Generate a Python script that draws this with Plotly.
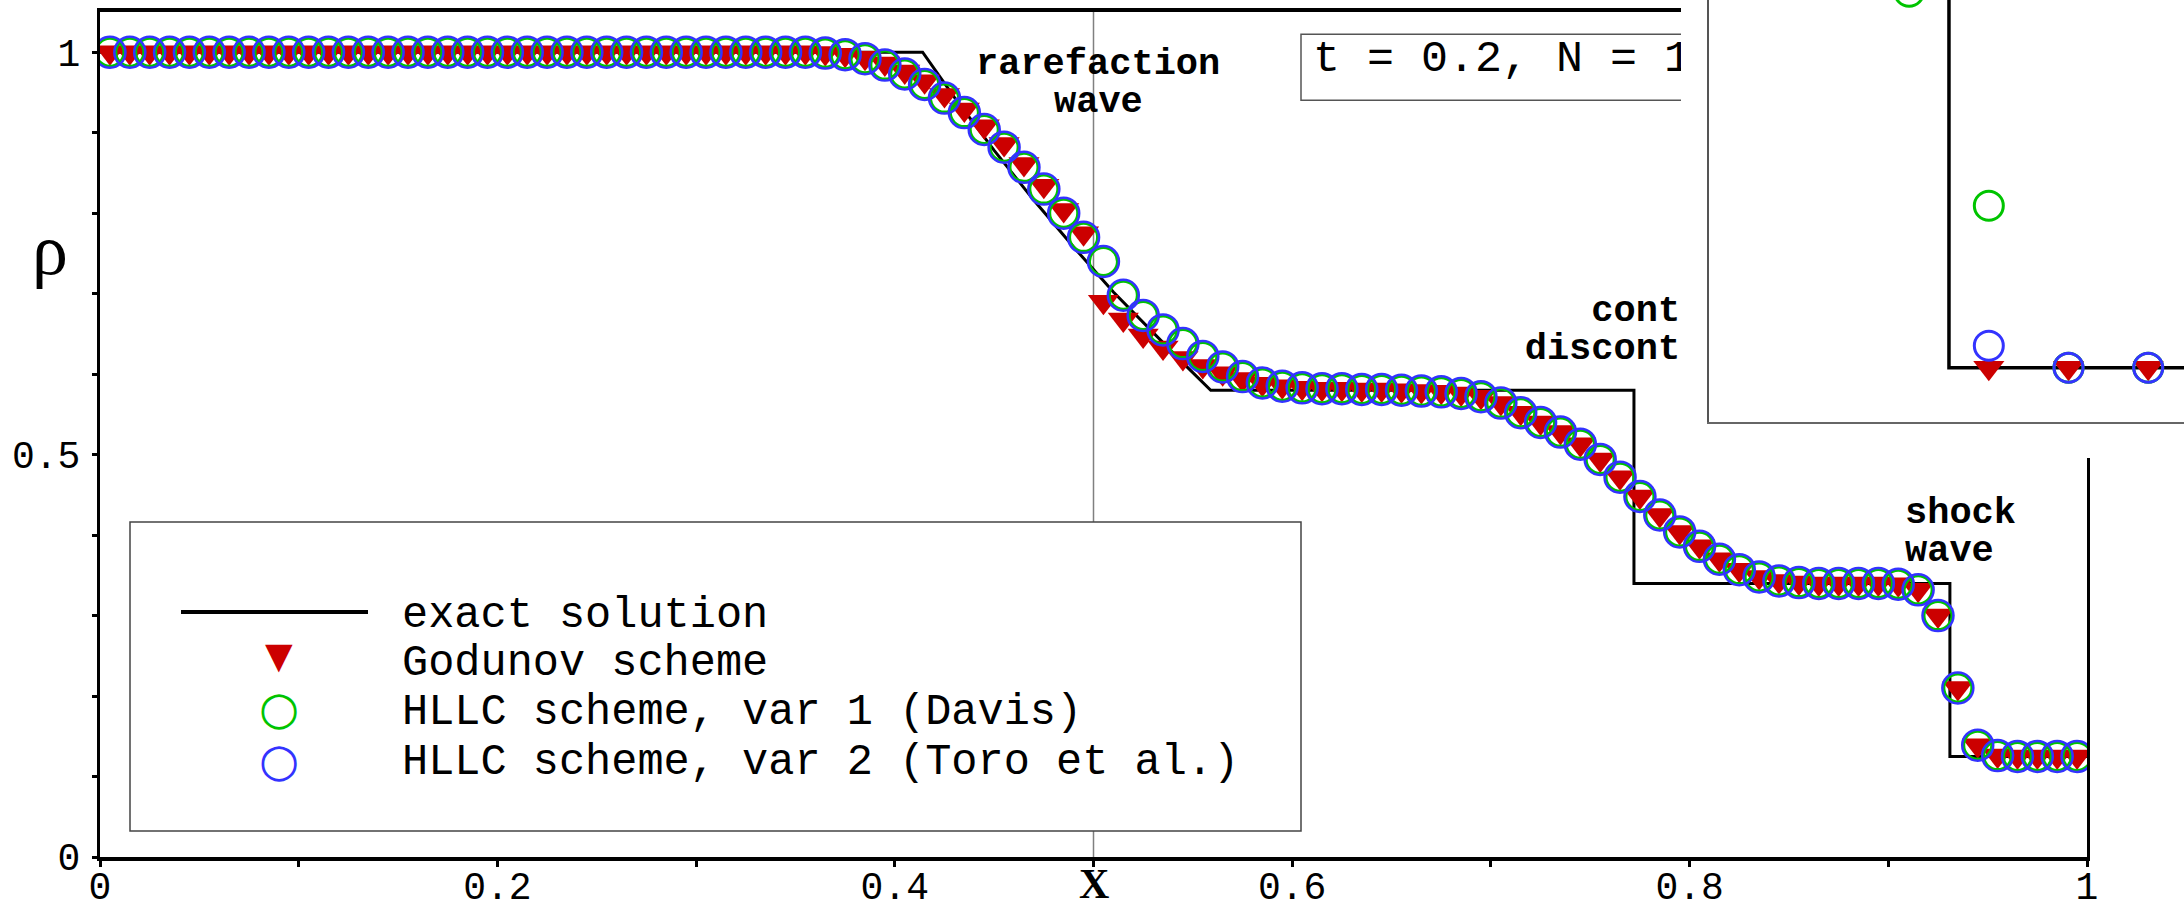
import plotly.graph_objects as go

# ---------------- data ----------------
x_cells = [0.005, 0.015, 0.025, 0.035, 0.045, 0.055, 0.065, 0.075, 0.085, 0.095,
           0.105, 0.115, 0.125, 0.135, 0.145, 0.155, 0.165, 0.175, 0.185, 0.195,
           0.205, 0.215, 0.225, 0.235, 0.245, 0.255, 0.265, 0.275, 0.285, 0.295,
           0.305, 0.315, 0.325, 0.335, 0.345, 0.355, 0.365, 0.375, 0.385, 0.395,
           0.405, 0.415, 0.425, 0.435, 0.445, 0.455, 0.465, 0.475, 0.485, 0.495,
           0.505, 0.515, 0.525, 0.535, 0.545, 0.555, 0.565, 0.575, 0.585, 0.595,
           0.605, 0.615, 0.625, 0.635, 0.645, 0.655, 0.665, 0.675, 0.685, 0.695,
           0.705, 0.715, 0.725, 0.735, 0.745, 0.755, 0.765, 0.775, 0.785, 0.795,
           0.805, 0.815, 0.825, 0.835, 0.845, 0.855, 0.865, 0.875, 0.885, 0.895,
           0.905, 0.915, 0.925, 0.935, 0.945, 0.955, 0.965, 0.975, 0.985, 0.995]

rho_hllc1 = [1.0, 1.0, 1.0, 1.0, 1.0, 1.0, 1.0, 1.0, 1.0, 1.0,
             1.0, 1.0, 1.0, 1.0, 1.0, 1.0, 1.0, 1.0, 1.0, 1.0,
             1.0, 1.0, 1.0, 1.0, 1.0, 1.0, 1.0, 1.0, 1.0, 1.0,
             1.0, 1.0, 1.0, 1.0, 1.0, 1.0, 0.999, 0.997, 0.992, 0.984,
             0.973, 0.960, 0.943, 0.925, 0.904, 0.882, 0.857, 0.830, 0.800, 0.770,
             0.740, 0.698, 0.673, 0.655, 0.638, 0.622, 0.609, 0.597, 0.589, 0.585,
             0.583, 0.582, 0.582, 0.581, 0.581, 0.580, 0.579, 0.578, 0.576, 0.572,
             0.564, 0.552, 0.540, 0.528, 0.513, 0.494, 0.472, 0.448, 0.425, 0.404,
             0.386, 0.370, 0.357, 0.348, 0.343, 0.341, 0.340, 0.340, 0.340, 0.340,
             0.339, 0.332, 0.300, 0.210, 0.139, 0.126, 0.125, 0.125, 0.125, 0.125]

rho_hllc2 = [1.0, 1.0, 1.0, 1.0, 1.0, 1.0, 1.0, 1.0, 1.0, 1.0,
             1.0, 1.0, 1.0, 1.0, 1.0, 1.0, 1.0, 1.0, 1.0, 1.0,
             1.0, 1.0, 1.0, 1.0, 1.0, 1.0, 1.0, 1.0, 1.0, 1.0,
             1.0, 1.0, 1.0, 1.0, 1.0, 1.0, 0.999, 0.997, 0.992, 0.984,
             0.973, 0.960, 0.943, 0.925, 0.904, 0.882, 0.857, 0.830, 0.800, 0.770,
             0.740, 0.698, 0.673, 0.655, 0.638, 0.622, 0.609, 0.597, 0.589, 0.585,
             0.583, 0.582, 0.582, 0.581, 0.581, 0.580, 0.579, 0.578, 0.576, 0.572,
             0.564, 0.552, 0.540, 0.528, 0.513, 0.494, 0.472, 0.448, 0.425, 0.404,
             0.386, 0.370, 0.357, 0.348, 0.343, 0.341, 0.340, 0.340, 0.340, 0.340,
             0.339, 0.332, 0.300, 0.210, 0.139, 0.126, 0.125, 0.125, 0.125, 0.125]

rho_godunov = [1.0, 1.0, 1.0, 1.0, 1.0, 1.0, 1.0, 1.0, 1.0, 1.0,
               1.0, 1.0, 1.0, 1.0, 1.0, 1.0, 1.0, 1.0, 1.0, 1.0,
               1.0, 1.0, 1.0, 1.0, 1.0, 1.0, 1.0, 1.0, 1.0, 1.0,
               1.0, 1.0, 1.0, 1.0, 1.0, 1.0, 0.999, 0.997, 0.993, 0.986,
               0.976, 0.964, 0.947, 0.929, 0.908, 0.886, 0.861, 0.834, 0.804, 0.775,
               0.690, 0.668, 0.648, 0.633, 0.620, 0.610, 0.601, 0.594, 0.588, 0.585,
               0.583, 0.582, 0.582, 0.581, 0.581, 0.580, 0.579, 0.578, 0.576, 0.572,
               0.564, 0.552, 0.540, 0.528, 0.513, 0.494, 0.472, 0.448, 0.425, 0.404,
               0.386, 0.370, 0.357, 0.348, 0.343, 0.341, 0.340, 0.340, 0.340, 0.340,
               0.339, 0.332, 0.300, 0.210, 0.139, 0.126, 0.125, 0.125, 0.125, 0.125]

exact_x = [0.0, 0.414, 0.43, 0.45, 0.47, 0.49, 0.51, 0.53, 0.545, 0.559,
           0.772, 0.772, 0.931, 0.931, 1.0]
exact_y = [1.0, 1.0, 0.944, 0.878, 0.816, 0.758, 0.702, 0.651, 0.614, 0.580,
           0.580, 0.340, 0.340, 0.125, 0.125]

# inset (zoom near the discontinuity)
inset_x = [0.495, 0.505, 0.515, 0.525]
inset_godunov = [0.400, 0.125, 0.125, 0.125]
inset_hllc1 = [0.313, 0.206, 0.125, 0.125]
inset_hllc2 = [0.400, 0.136, 0.125, 0.125]
inset_exact_x = [0.46, 0.5, 0.5, 0.54]
inset_exact_y = [0.45, 0.45, 0.125, 0.125]

x_tick_vals = [0.0, 0.1, 0.2, 0.3, 0.4, 0.5, 0.6, 0.7, 0.8, 0.9, 1.0]
x_tick_text = ["0", "", "0.2", "", "0.4", "", "0.6", "", "0.8", "", "1"]
y_tick_vals = [0.0, 0.1, 0.2, 0.3, 0.4, 0.5, 0.6, 0.7, 0.8, 0.9, 1.0]
y_tick_text = ["0", "", "", "", "", "0.5", "", "", "", "", "1"]

legend_names = ["exact solution", "Godunov scheme",
                "HLLC scheme, var 1 (Davis)", "HLLC scheme, var 2 (Toro et al.)"]

# ---------------- figure ----------------
W, H = 2184, 909
MONO = "Liberation Mono"
RED, GREEN, BLUE = "#cc0000", "#00c400", "#3333ff"

fig = go.Figure()

fig.add_trace(go.Scatter(x=exact_x, y=exact_y, mode="lines",
                         line=dict(color="black", width=3),
                         name=legend_names[0], showlegend=False))
fig.add_trace(go.Scatter(x=x_cells, y=rho_godunov, mode="markers",
                         marker=dict(symbol="triangle-down", size=27, color=RED),
                         name=legend_names[1], showlegend=False))
fig.add_trace(go.Scatter(x=x_cells, y=rho_hllc1, mode="markers",
                         marker=dict(symbol="circle-open", size=28, color=GREEN,
                                     line=dict(width=3)),
                         name=legend_names[2], showlegend=False))
fig.add_trace(go.Scatter(x=x_cells, y=rho_hllc2, mode="markers",
                         marker=dict(symbol="circle-open", size=31, color=BLUE,
                                     line=dict(width=2.5)),
                         name=legend_names[3], showlegend=False))


def px_x(p):
    return p / W


def px_y(p):
    return 1 - p / H


def dx(p):  # main-plot data x for a pixel column
    return (p - 100) / 1987


def dy(p):  # main-plot data y for a pixel row
    return (857 - p) / 805


# clipped texts (drawn as text traces so the inset panel covers them)
fig.add_trace(go.Scatter(x=[dx(1669)] * 2, y=[0.6770, 0.6298], mode="text",
                         text=["<b>contact</b>", "<b>discontinuity</b>"],
                         textposition="middle center",
                         textfont=dict(family=MONO, size=37, color="black"),
                         showlegend=False, hoverinfo="skip"))
fig.add_trace(go.Scatter(x=[0.6105], y=[0.9905], mode="text",
                         text=["t = 0.2, N = 100"], textposition="middle right",
                         textfont=dict(family=MONO, size=45, color="black"),
                         showlegend=False, hoverinfo="skip"))

# white panel behind the inset (covers the main plot there)
fig.add_trace(go.Scatter(x=[None], y=[None], xaxis="x2", yaxis="y2",
                         showlegend=False, hoverinfo="skip"))

# inset traces
fig.add_trace(go.Scatter(x=inset_exact_x, y=inset_exact_y, mode="lines",
                         line=dict(color="black", width=3.5),
                         xaxis="x3", yaxis="y3", showlegend=False))
fig.add_trace(go.Scatter(x=inset_x, y=inset_godunov, mode="markers",
                         marker=dict(symbol="triangle-down", size=27, color=RED),
                         xaxis="x3", yaxis="y3", showlegend=False))
fig.add_trace(go.Scatter(x=inset_x, y=inset_hllc1, mode="markers",
                         marker=dict(symbol="circle-open", size=29, color=GREEN,
                                     line=dict(width=3)),
                         xaxis="x3", yaxis="y3", showlegend=False))
fig.add_trace(go.Scatter(x=inset_x, y=inset_hllc2, mode="markers",
                         marker=dict(symbol="circle-open", size=29, color=BLUE,
                                     line=dict(width=3)),
                         xaxis="x3", yaxis="y3", showlegend=False))

hidden = dict(showline=False, showticklabels=False, ticks="", showgrid=False,
              zeroline=False, range=[0, 1], fixedrange=True, automargin=False)

fig.update_layout(
    template="none",
    width=W, height=H, autosize=False,
    margin=dict(l=0, r=0, t=0, b=0, pad=0),
    paper_bgcolor="white", plot_bgcolor="white",
    font=dict(family=MONO, color="black"),
    showlegend=False,
    xaxis=dict(domain=[px_x(100), px_x(2087)], range=[0, 1], anchor="y",
               automargin=False, ticklabelstandoff=-13,
               showline=True, mirror=True, linecolor="black", linewidth=3.5,
               ticks="outside", ticklen=6, tickwidth=3, tickcolor="black",
               tickvals=x_tick_vals, ticktext=x_tick_text,
               tickfont=dict(family=MONO, size=38, color="black"),
               showgrid=False, zeroline=False),
    yaxis=dict(domain=[px_y(857), px_y(12)], range=[0, 1.05], anchor="x",
               automargin=False, ticklabelstandoff=4,
               showline=True, mirror=True, linecolor="black", linewidth=3,
               ticks="outside", ticklen=5, tickwidth=3, tickcolor="black",
               tickvals=y_tick_vals, ticktext=y_tick_text,
               tickfont=dict(family=MONO, size=38, color="black"),
               showgrid=False, zeroline=False),
    xaxis2=dict(domain=[px_x(1681), 1.0], anchor="y2", **hidden),
    yaxis2=dict(domain=[px_y(458), 1.0], anchor="x2", **hidden),
    xaxis3=dict(domain=[px_x(1709), 1.0], anchor="y3", range=[0.46989, 0.52949],
                automargin=False,
                showline=True, linecolor="#666666", linewidth=2, mirror=False,
                showticklabels=False, ticks="", showgrid=False, zeroline=False),
    yaxis3=dict(domain=[px_y(421.7), 1.0], anchor="x3", range=[0.098, 0.30885],
                automargin=False,
                showline=True, linecolor="#555555", linewidth=2, mirror=False,
                showticklabels=False, ticks="", showgrid=False, zeroline=False),
)

# shapes
fig.add_shape(type="line", xref="x", yref="y domain", x0=0.5, x1=0.5, y0=0, y1=1,
              line=dict(color="#808080", width=1.5), layer="below")
fig.add_shape(type="rect", xref="x", yref="y", x0=dx(130), x1=dx(1301), y0=dy(831), y1=dy(522),
              fillcolor="white", line=dict(color="#444444", width=1.5), layer="below")
fig.add_shape(type="rect", xref="x", yref="y", x0=dx(1301), x1=0.85, y0=dy(100), y1=dy(34),
              fillcolor="rgba(0,0,0,0)", line=dict(color="#555555", width=1.5), layer="below")
fig.add_shape(type="line", xref="x3", yref="y3 domain", x0=0.5, x1=0.5, y0=0, y1=1,
              line=dict(color="#999999", width=2), layer="below")

# legend (box, line sample, symbols, labels)
fig.add_shape(type="line", xref="x", yref="y", x0=dx(181), x1=dx(368), y0=dy(612), y1=dy(612),
              line=dict(color="black", width=4), layer="below")
fig.add_annotation(x=dx(279), y=dy(655), xref="x", yref="y", text="▼", showarrow=False,
                   font=dict(family="DejaVu Sans", size=36, color=RED),
                   xanchor="center", yanchor="middle")
fig.add_annotation(x=dx(279), y=dy(708), xref="x", yref="y", text="○", showarrow=False,
                   font=dict(family="DejaVu Sans", size=46, color=GREEN),
                   xanchor="center", yanchor="middle")
fig.add_annotation(x=dx(279), y=dy(760), xref="x", yref="y", text="○", showarrow=False,
                   font=dict(family="DejaVu Sans", size=46, color=BLUE),
                   xanchor="center", yanchor="middle")
legend_rows = [615, 663, 712, 762]
for name, row in zip(legend_names, legend_rows):
    fig.add_annotation(x=dx(400), y=dy(row), xref="x", yref="y", text=name, showarrow=False,
                       font=dict(family=MONO, size=43.6, color="black"),
                       xanchor="left", yanchor="middle")

# annotations
ann_font = dict(family=MONO, size=37, color="black")
fig.add_annotation(x=0.5023, y=dy(64), xref="x", yref="y", text="<b>rarefaction</b>",
                   showarrow=False, font=ann_font, xanchor="center", yanchor="middle")
fig.add_annotation(x=0.5023, y=dy(101.5), xref="x", yref="y", text="<b>wave</b>",
                   showarrow=False, font=ann_font, xanchor="center", yanchor="middle")
fig.add_annotation(x=0.9074, y=dy(513), xref="x", yref="y", text="<b>shock</b>",
                   showarrow=False, font=ann_font, xanchor="left", yanchor="middle")
fig.add_annotation(x=0.9074, y=dy(551), xref="x", yref="y", text="<b>wave</b>",
                   showarrow=False, font=ann_font, xanchor="left", yanchor="middle")
fig.add_annotation(x=0.5, y=px_y(884), xref="x", yref="paper", text="<b>X</b>",
                   showarrow=False, font=dict(family="Liberation Serif", size=42, color="black"),
                   xanchor="center", yanchor="middle")
fig.add_annotation(x=px_x(50), y=px_y(250), xref="paper", yref="paper", text="ρ",
                   showarrow=False, font=dict(family="Liberation Serif", size=72, color="black"),
                   xanchor="center", yanchor="middle")

fig.write_html("out.html")
